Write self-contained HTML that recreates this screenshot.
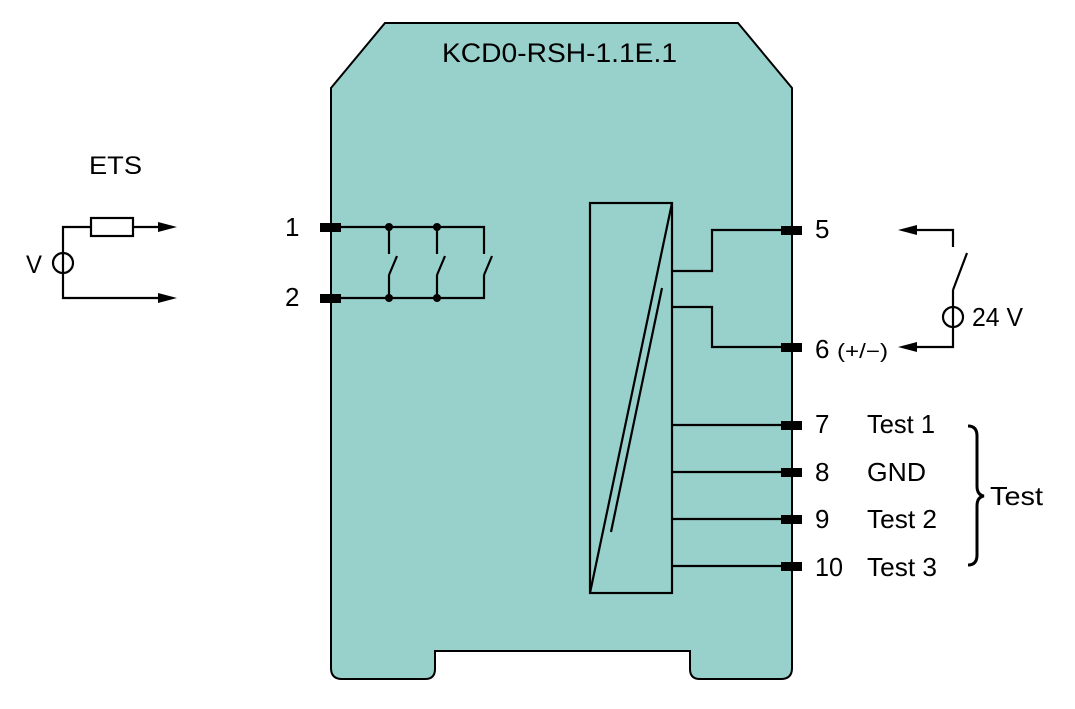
<!DOCTYPE html>
<html><head><meta charset="utf-8"><style>
html,body{margin:0;padding:0;background:#fff;}
svg{display:block;}
text{font-family:"Liberation Sans",Arial,sans-serif;fill:#000;}
</style></head><body>
<svg width="1075" height="709" viewBox="0 0 1075 709" xmlns="http://www.w3.org/2000/svg">
<!-- housing -->
<path d="M385,23 L738,23 L792,88 L792,668 Q792,679 781,679 L700,679 Q690,679 690,669 L690,651 L435,651 L435,669 Q435,679 425,679 L342,679 Q331,679 331,668 L331,88 Z" fill="#98d1cb" stroke="#000" stroke-width="2"/>
<text x="442" y="62" font-size="27" textLength="235" lengthAdjust="spacingAndGlyphs">KCD0-RSH-1.1E.1</text>

<!-- ETS left circuit -->
<text x="89" y="174" font-size="25" textLength="53" lengthAdjust="spacingAndGlyphs">ETS</text>
<text x="26" y="273" font-size="25" textLength="16" lengthAdjust="spacingAndGlyphs">V</text>
<g stroke="#000" stroke-width="2.2" fill="none">
<path d="M160,227 L63,227 L63,298 L160,298"/>
<circle cx="63" cy="263" r="10"/>
<rect x="91" y="218" width="42" height="18" fill="#fff"/>
</g>
<polygon points="177,227 158,222 158,232" fill="#000"/>
<polygon points="177,298 158,293 158,303" fill="#000"/>

<!-- terminals 1,2 -->
<text x="285" y="236" font-size="26">1</text>
<text x="285" y="306" font-size="26">2</text>
<g stroke="#000" stroke-width="2.2" fill="none">
<path d="M340,227 L484,227 L484,254"/>
<path d="M340,298 L484,298 L484,275"/>
<path d="M484,275 L492,256"/>
<path d="M389,227 L389,254 M389,275 L389,298 M389,275 L397,256"/>
<path d="M437,227 L437,254 M437,275 L437,298 M437,275 L445,256"/>
</g>
<circle cx="389" cy="227" r="4" fill="#000"/>
<circle cx="437" cy="227" r="4" fill="#000"/>
<circle cx="389" cy="298" r="4" fill="#000"/>
<circle cx="437" cy="298" r="4" fill="#000"/>
<rect x="320" y="223" width="21" height="9" fill="#000"/>
<rect x="320" y="294" width="21" height="9" fill="#000"/>

<!-- module box -->
<g stroke="#000" stroke-width="2.2" fill="none">
<rect x="590" y="203" width="82" height="390"/>
<path d="M672,203 L590,593"/>
<path d="M662,288 L611,532"/>
<path d="M672,271 L712,271 L712,230 L790,230"/>
<path d="M672,307 L712,307 L712,347 L790,347"/>
<path d="M672,425 L790,425"/>
<path d="M672,472 L790,472"/>
<path d="M672,519 L790,519"/>
<path d="M672,566 L790,566"/>
</g>
<rect x="781" y="226" width="21" height="9" fill="#000"/>
<rect x="781" y="343" width="21" height="9" fill="#000"/>
<rect x="781" y="421" width="21" height="9" fill="#000"/>
<rect x="781" y="468" width="21" height="9" fill="#000"/>
<rect x="781" y="515" width="21" height="9" fill="#000"/>
<rect x="781" y="562" width="21" height="9" fill="#000"/>

<!-- right labels -->
<text x="815" y="238" font-size="26">5</text>
<text x="815" y="358" font-size="26">6</text>
<text x="837" y="358" font-size="20" textLength="51" lengthAdjust="spacingAndGlyphs">(+/−)</text>

<!-- 24V circuit -->
<g stroke="#000" stroke-width="2.2" fill="none">
<path d="M915,230 L953,230 L953,247"/>
<path d="M953,290 L967,253"/>
<path d="M953,290 L953,347 L915,347"/>
<circle cx="953" cy="317" r="10"/>
</g>
<polygon points="898,230 917,225 917,235" fill="#000"/>
<polygon points="898,347 917,342 917,352" fill="#000"/>
<text x="972" y="326" font-size="26" textLength="51" lengthAdjust="spacingAndGlyphs">24 V</text>

<!-- test terminals -->
<text x="815" y="433" font-size="26">7</text>
<text x="815" y="481" font-size="26">8</text>
<text x="815" y="528" font-size="26">9</text>
<text x="815" y="576" font-size="26" textLength="28" lengthAdjust="spacingAndGlyphs">10</text>
<text x="867" y="433" font-size="26" textLength="68" lengthAdjust="spacingAndGlyphs">Test 1</text>
<text x="867" y="481" font-size="26" textLength="59" lengthAdjust="spacingAndGlyphs">GND</text>
<text x="867" y="528" font-size="26" textLength="70" lengthAdjust="spacingAndGlyphs">Test 2</text>
<text x="867" y="576" font-size="26" textLength="70" lengthAdjust="spacingAndGlyphs">Test 3</text>
<path d="M968,426 Q977,426 977,436 L977,486 Q977,495 984,496 Q977,497 977,506 L977,555 Q977,565 968,565" stroke="#000" stroke-width="3" fill="none"/>
<text x="990" y="505" font-size="26" textLength="53" lengthAdjust="spacingAndGlyphs">Test</text>
</svg>
</body></html>
